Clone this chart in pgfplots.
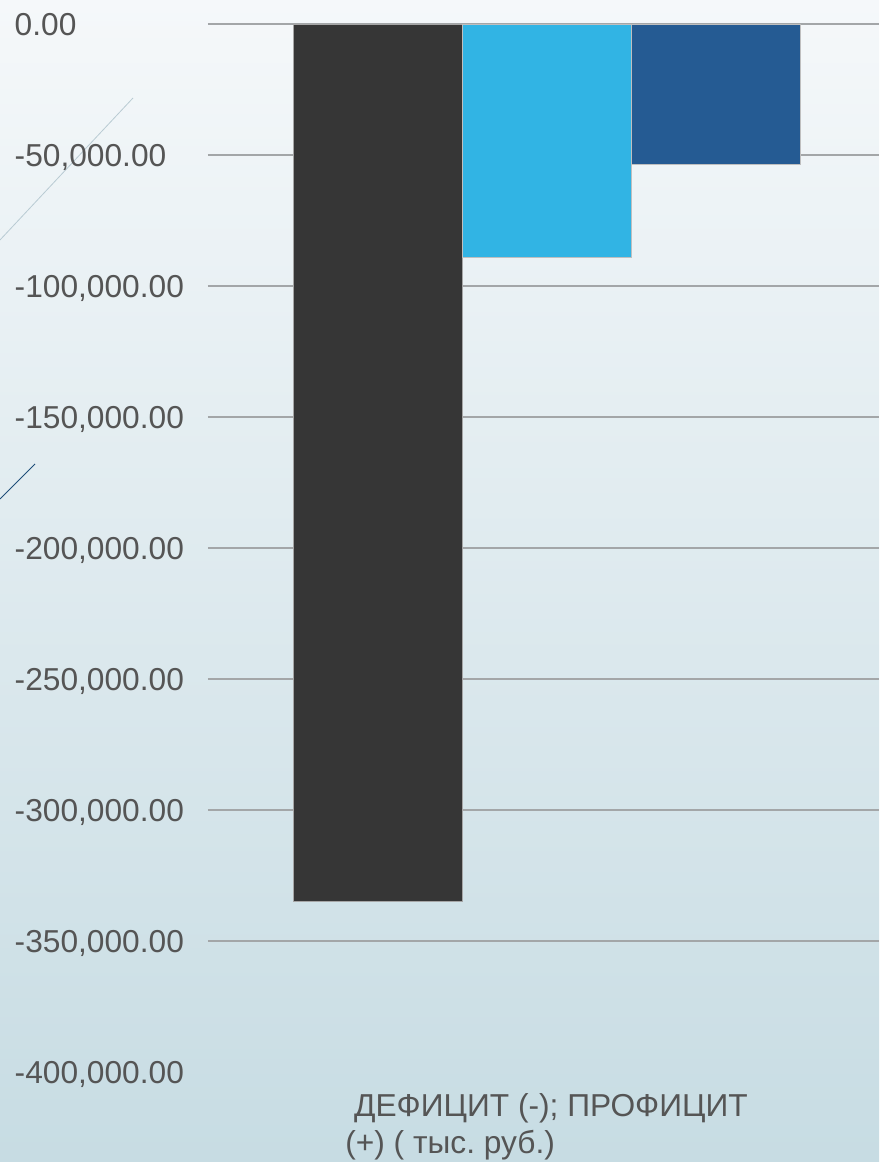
\documentclass[border=0pt]{standalone}
\usepackage{pgfplots}
\pgfplotsset{compat=1.18}
\usepackage{fontspec}
\setmainfont{Liberation Sans}
\frenchspacing
\definecolor{bgtop}{HTML}{F5F8FA}
\definecolor{bgbot}{HTML}{C7DCE3}
\definecolor{gridc}{HTML}{A3A6A8}
\definecolor{txt}{HTML}{555555}
\definecolor{barA}{HTML}{363636}
\definecolor{barB}{HTML}{31B4E4}
\definecolor{barC}{HTML}{255B93}
\definecolor{decoA}{HTML}{B9CBD3}
\definecolor{decoB}{HTML}{1F4E79}
\begin{document}
\begin{tikzpicture}
\useasboundingbox (-208pt,-90pt) rectangle (671pt,1072pt);
\clip (-208pt,-90pt) rectangle (671pt,1072pt);
\shade[top color=bgtop, bottom color=bgbot] (-208pt,-90pt) rectangle (671pt,1072pt);
\draw[decoA, line width=0.8pt] (-75pt,974pt) -- (-208pt,832pt);
\draw[decoB, line width=1pt] (-173pt,608pt) -- (-208pt,573pt);
\begin{axis}[
  scale only axis, width=671pt, height=1048pt,
  xmin=208, xmax=879, ymin=-400000, ymax=0,
  axis line style={draw=none},
  major tick length=0pt,
  xtick={546.5},
  xticklabels={{\ ДЕФИЦИТ (-); ПРОФИЦИТ\\(+) ( тыс. руб.)}},
  ytick={-350000,-300000,...,0},
  extra y ticks={-400000},
  extra y tick style={grid=none},
  ymajorgrids,
  grid style={gridc, line width=2.7pt},
  scaled y ticks=false,
  tick label style={font=\fontsize{31.7}{37}\selectfont, text=txt, inner sep=0pt},
  yticklabel style={anchor=base west, xshift=-193.5pt, yshift=-11.35pt,
    /pgf/number format/.cd, fixed, fixed zerofill, precision=2, 1000 sep={,}, assume math mode=true},
  xticklabel style={anchor=north, align=left, yshift=-21pt},
]
\addplot[ybar, bar width=169, bar shift=0pt, fill=barA, draw=gray!70, line width=0.8pt] coordinates {(377.5,-335000)};
\addplot[ybar, bar width=169, bar shift=0pt, fill=barB, draw=gray!50, line width=0.8pt] coordinates {(546.5,-89000)};
\addplot[ybar, bar width=169, bar shift=0pt, fill=barC, draw=gray!50, line width=0.8pt] coordinates {(715.5,-53400)};
\end{axis}
\end{tikzpicture}
\end{document}
